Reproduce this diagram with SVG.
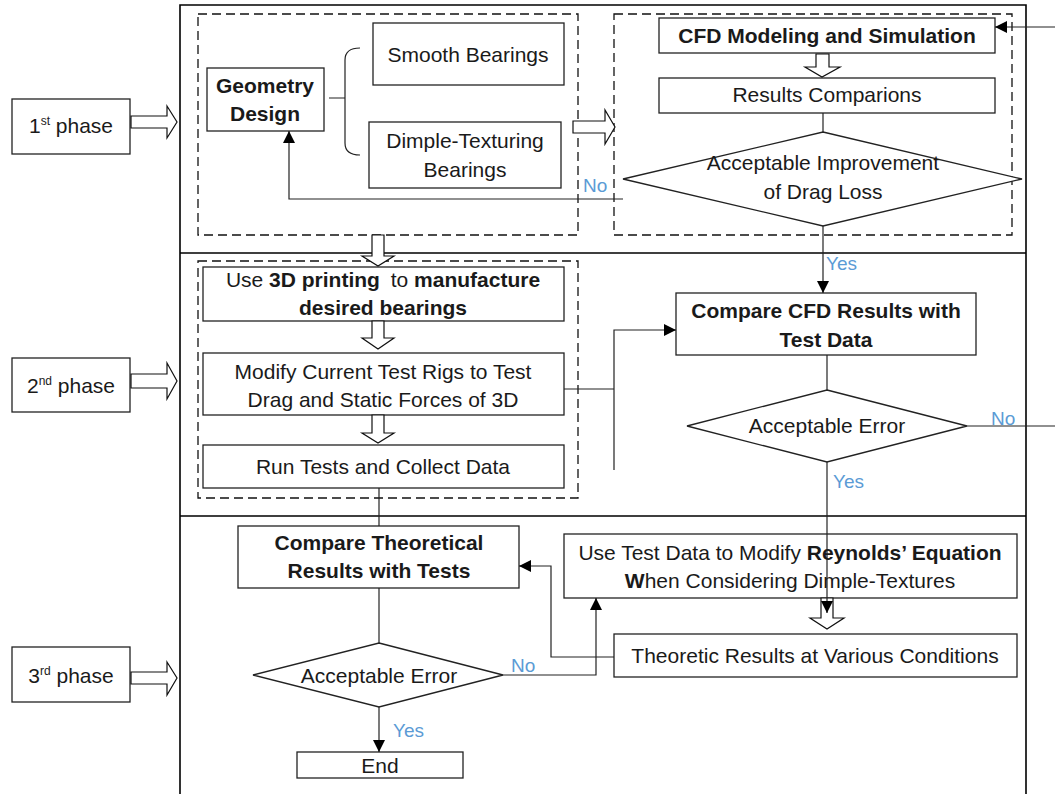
<svg xmlns="http://www.w3.org/2000/svg" width="1055" height="794" viewBox="0 0 1055 794">
<defs>
<marker id="ah" markerUnits="userSpaceOnUse" markerWidth="12" markerHeight="12" viewBox="0 0 12 12" refX="12" refY="6" orient="auto">
<path d="M0,0 L12,6 L0,12 Z" fill="#000"/>
</marker>
<style>
.frame{fill:none;stroke:#000;stroke-width:1.6}
.box{fill:#fff;stroke:#222;stroke-width:1.3}
.dash{fill:none;stroke:#111;stroke-width:1.3;stroke-dasharray:9 5}
.hol{fill:#fff;stroke:#111;stroke-width:1.2}
.ln{fill:none;stroke:#222;stroke-width:1.2}
.t{font-family:"Liberation Sans",Arial,sans-serif;font-size:21px;fill:#1a1a1a;text-anchor:middle}
.b{font-weight:bold}
.lbl{font-family:"Liberation Sans",Arial,sans-serif;font-size:19px;fill:#5B9BD5}
.sup{font-size:12px}
</style>
</defs>
<rect width="1055" height="794" fill="#fff"/>

<g id="frame">
<path class="frame" d="M180,800 V5 H1026 V800 M180,253 H1026 M180,516 H1026"/>
<rect class="dash" x="198" y="14" width="380" height="221"/>
<rect class="dash" x="614" y="14" width="398" height="221"/>
<rect class="dash" x="198" y="261" width="380" height="237"/>
</g>

<g id="phase1">
<rect class="box" x="12" y="99" width="118" height="55"/>
<text class="t" x="71" y="133">1<tspan class="sup" dy="-8">st</tspan><tspan dy="8"> phase</tspan></text>
<polygon class="hol" points="131,116 167,116 167,106 177,122 167,138 167,128 131,128"/>
</g>
<g id="phase2">
<rect class="box" x="12" y="358" width="118" height="54"/>
<text class="t" x="71" y="393">2<tspan class="sup" dy="-8">nd</tspan><tspan dy="8"> phase</tspan></text>
<polygon class="hol" points="131,374 167,374 167,363 177,381 167,399 167,388 131,388"/>
</g>
<g id="phase3">
<rect class="box" x="12" y="647" width="118" height="55"/>
<text class="t" x="71" y="683">3<tspan class="sup" dy="-8">rd</tspan><tspan dy="8"> phase</tspan></text>
<polygon class="hol" points="131,672 167,672 167,662 177,678 167,695 167,684 131,684"/>
</g>

<g id="geometry">
<rect class="box" x="207" y="68" width="117" height="63"/>
<text class="t b" x="265" y="93">Geometry</text>
<text class="t b" x="265" y="121">Design</text>
</g>
<g id="brace">
<path class="ln" d="M329,98 H345 M360,48 Q345,48 345,60 V143 Q345,155 360,155" stroke-width="1.4"/>
</g>
<g id="smooth">
<rect class="box" x="373" y="23" width="191" height="62"/>
<text class="t" x="468" y="62">Smooth Bearings</text>
</g>
<g id="dimple">
<rect class="box" x="369" y="122" width="192" height="66"/>
<text class="t" x="465" y="148">Dimple-Texturing</text>
<text class="t" x="465" y="177">Bearings</text>
</g>
<g id="cfd">
<rect class="box" x="659" y="18" width="336" height="35"/>
<text class="t b" x="827" y="43">CFD Modeling and Simulation</text>
</g>
<g id="results">
<rect class="box" x="659" y="78" width="336" height="35"/>
<text class="t" x="827" y="102">Results Comparions</text>
</g>
<g id="decision1">
<polygon class="box" points="823,132 1022,179 823,226 623,179"/>
<text class="t" x="823" y="170">Acceptable Improvement</text>
<text class="t" x="823" y="199">of Drag Loss</text>
</g>

<g id="print">
<rect class="box" x="203" y="267" width="361" height="54"/>
<text class="t" x="383" y="287">Use <tspan class="b">3D printing</tspan>  <tspan dx="5">to </tspan><tspan class="b">manufacture</tspan></text>
<text class="t b" x="383" y="315">desired bearings</text>
</g>
<g id="modify">
<rect class="box" x="203" y="353" width="361" height="62"/>
<text class="t" x="383" y="379">Modify Current Test Rigs to Test</text>
<text class="t" x="383" y="407">Drag and Static Forces of 3D</text>
</g>
<g id="run">
<rect class="box" x="203" y="445" width="361" height="43"/>
<text class="t" x="383" y="474">Run Tests and Collect Data</text>
</g>
<g id="comparecfd">
<rect class="box" x="676" y="293" width="300" height="62"/>
<text class="t b" x="826" y="318">Compare CFD Results with</text>
<text class="t b" x="826" y="347">Test Data</text>
</g>
<g id="decision2">
<polygon class="box" points="827,390 967,426 827,462 687,426"/>
<text class="t" x="827" y="433">Acceptable Error</text>
</g>

<g id="comparetheo">
<rect class="box" x="238" y="526" width="281" height="62"/>
<text class="t b" x="379" y="550">Compare Theoretical</text>
<text class="t b" x="379" y="578">Results with Tests</text>
</g>
<g id="usetest">
<rect class="box" x="564" y="534" width="453" height="64"/>
<text class="t" x="790" y="560">Use Test Data to Modify <tspan class="b">Reynolds’ Equation</tspan></text>
<text class="t" x="790" y="588"><tspan class="b">W</tspan>hen Considering Dimple-Textures</text>
</g>
<g id="theoretic">
<rect class="box" x="614" y="634" width="403" height="43"/>
<text class="t" x="815" y="663">Theoretic Results at Various Conditions</text>
</g>
<g id="decision3">
<polygon class="box" points="379,643 503,675 379,707 253,675"/>
<text class="t" x="379" y="683">Acceptable Error</text>
</g>
<g id="end">
<rect class="box" x="297" y="752" width="166" height="26"/>
<text class="t" x="380" y="773">End</text>
</g>

<g id="connectors">
<polygon class="hol" points="573,121 605,121 605,110 615,127 605,144 605,133 573,133"/>
<polygon class="hol" points="816,54 829,54 829,67 840,67 822,77 805,67 816,67"/>
<polygon class="hol" points="372,235 384,235 384,256 394,256 378,266 362,256 372,256"/>
<polygon class="hol" points="372,321 384,321 384,338 394,338 378,349 362,338 372,338"/>
<polygon class="hol" points="372,415 384,415 384,433 394,433 378,443 362,433 372,433"/>
<polygon class="hol" points="821,598 833,598 833,618 844,618 827,629 810,618 821,618"/>
<path class="ln" d="M623,199 H289 V131" marker-end="url(#ah)"/>
<path class="ln" d="M823,226 V293" marker-end="url(#ah)"/>
<path class="ln" d="M823,113 V132"/>
<path class="ln" d="M1055,27 H995" marker-end="url(#ah)"/>
<path class="ln" d="M967,426 H1055"/>
<path class="ln" d="M564,389 H614"/>
<path class="ln" d="M614,470 V330 H676" marker-end="url(#ah)"/>
<path class="ln" d="M827,355 V390"/>
<path class="ln" d="M827,462 V613" marker-end="url(#ah)"/>
<path class="ln" d="M379,488 V526"/>
<path class="ln" d="M379,588 V643"/>
<path class="ln" d="M379,707 V752" marker-end="url(#ah)"/>
<path class="ln" d="M503,675 H596 V598" marker-end="url(#ah)"/>
<path class="ln" d="M614,657 H551 V566 H519" marker-end="url(#ah)"/>
<text class="lbl" x="583" y="192">No</text>
<text class="lbl" x="826" y="270">Yes</text>
<text class="lbl" x="991" y="425">No</text>
<text class="lbl" x="833" y="488">Yes</text>
<text class="lbl" x="511" y="672">No</text>
<text class="lbl" x="393" y="737">Yes</text>
</g>
</svg>
